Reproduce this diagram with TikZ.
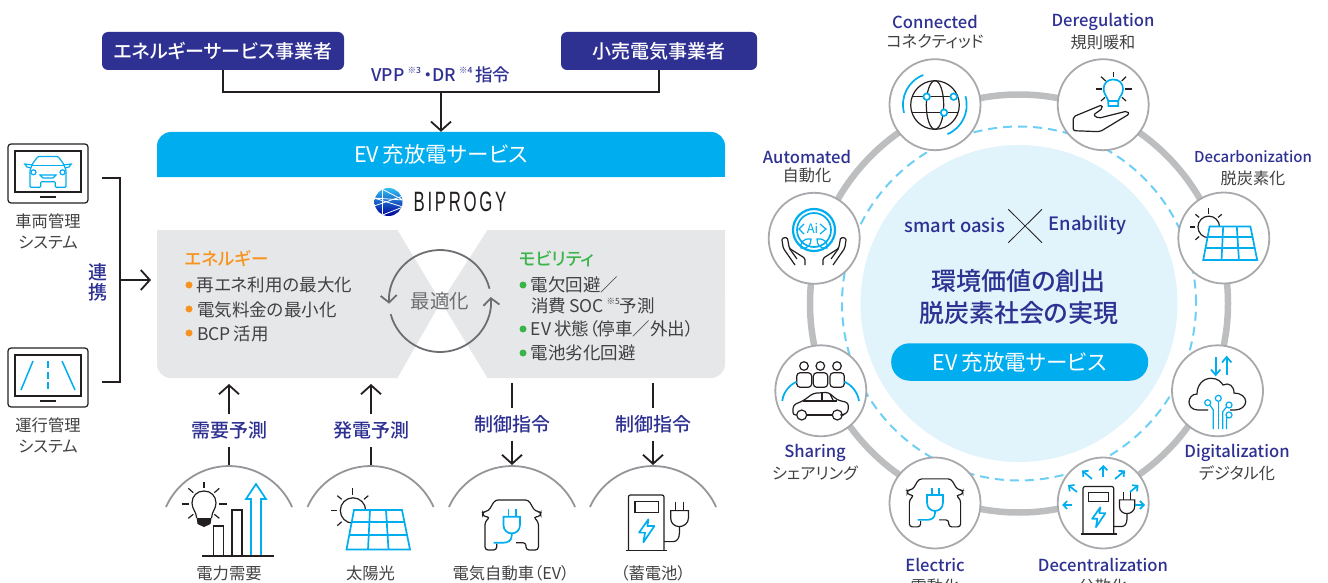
\documentclass[tikz,border=0pt]{standalone}
\usepackage{fontspec}
\usepackage{xcolor}
\usepackage{tikz}
\usetikzlibrary{arrows.meta,positioning,calc,shapes.geometric}
\setmainfont[RawFeature=+palt]{Noto Sans CJK JP}
\newfontfamily\medfont[RawFeature=+palt]{Noto Sans CJK JP Medium}
\newfontfamily\logofont[LetterSpace=16]{Liberation Sans}
\definecolor{navy}{HTML}{2E3192}
\definecolor{evblue}{HTML}{00AEEF}
\definecolor{panelgray}{HTML}{E6E7E8}
\definecolor{inktext}{HTML}{414042}
\definecolor{ink}{HTML}{231F20}
\definecolor{midgray}{HTML}{6D6E71}
\definecolor{domegray}{HTML}{939598}
\definecolor{ringgray}{HTML}{BCBEC0}
\definecolor{wheelgray}{HTML}{A7A9AC}
\definecolor{dashblue}{HTML}{6DCFF6}
\definecolor{discblue}{HTML}{E1F3FB}
\definecolor{energyorange}{HTML}{F7931E}
\definecolor{mobilgreen}{HTML}{39B54A}
\newcommand{\noteref}[1]{\raisebox{.5em}{\fontsize{8.5}{8.5}\selectfont ※#1}}

\begin{document}
\begin{tikzpicture}[
    x=1pt, y=-1pt,
    actorbox/.style={fill=navy, rounded corners=6pt, minimum height=38pt, text=white,
                inner sep=0pt, font=\medfont\fontsize{19}{20}\selectfont},
    arr/.style={->, >={Straight Barb[length=9pt,width=20pt]}, line width=1.8pt, draw=ink},
    conn/.style={line width=1.8pt, draw=ink},
    navylbl/.style={text=navy, inner sep=0pt, font=\medfont\fontsize{19}{21}\selectfont},
    steplbl/.style={navylbl, minimum height=32pt},
    graylbl/.style={text=inktext, inner sep=0pt, align=center, font=\fontsize{16.3}{20.5}\selectfont},
    itemlbl/.style={text=inktext, anchor=west, inner sep=0pt, font=\fontsize{17.5}{20}\selectfont},
    headlbl/.style={itemlbl, font=\medfont\fontsize{17.5}{20}\selectfont},
    dot/.style={circle, minimum size=7pt, inner sep=0pt},
    monitor/.style={draw=ink, line width=1.2pt, rounded corners=3pt, minimum width=80pt, minimum height=59pt},
    screen/.style={draw=ink, line width=1.4pt, minimum width=66pt, minimum height=41pt},
    dome/.style={draw=domegray, line width=1.8pt},
    wheel/.style={circle, draw=wheelgray, line width=1.8pt, fill=white, minimum size=91pt, inner sep=0pt},
    entitle/.style={text=navy, inner sep=0pt, font=\medfont\fontsize{16.6}{18}\selectfont},
    jptitle/.style={text=inktext, inner sep=0pt, font=\fontsize{16.2}{18}\selectfont},
    iconline/.style={draw=ink, line width=1.2pt},
    blueline/.style={draw=evblue, line width=1.7pt},
    thinblue/.style={draw=evblue, line width=1.2pt},
    tinyarr/.style={->, >={Straight Barb[length=4pt,width=8pt]}, draw=evblue, line width=1.7pt},
    looparr/.style={->, >={Straight Barb[length=7pt,width=16pt]}, draw=midgray, line width=1.8pt},
    solarpanel/.pic={
        \draw[iconline] (-25,-19.5) circle (12.7);
        \draw[iconline] (-25.3,-42) -- (-25.3,-35);
        \draw[iconline] (-47,-19.5) -- (-41,-19.5);
        \draw[iconline] (-40.7,-34.3) -- (-36.3,-30.7);
        \draw[iconline] (-9.7,-34.3) -- (-14,-30.7);
        \draw[iconline] (-40.7,-4.3) -- (-36.3,-8.3);
        \draw[blueline, fill=white] (-24,-20) -- (24,-20) -- (32,19.5) -- (-31.5,19.5) -- cycle;
        \draw[blueline] (-8,-20) -- (-10,19.5);
        \draw[blueline] (8,-20) -- (10.5,19.5);
        \draw[blueline] (-26.3,-7.7) -- (26.5,-7.7);
        \draw[blueline] (-28.7,5) -- (29,5);
    },
    carplug/.pic={
        \draw[iconline, rounded corners=3pt] (4.3,16) -- (14.3,16) -- (14.3,23.3) -- (26.7,23.3) -- (26.7,-5)
            -- (21.7,-9.5) -- (29,-10.5) -- (29,-15) -- (23.3,-15.5) -- (16.7,-26.7) -- (-16.7,-26.7)
            -- (-23.3,-15.5) -- (-29,-15) -- (-29,-10.5) -- (-21.7,-9.5) -- (-26.7,-5) -- (-26.7,23.3)
            -- (-15,23.3) -- (-15,17);
        \draw[blueline] (-3.3,-17.5) -- (-3.3,-10);
        \draw[blueline] (4.3,-17.5) -- (4.3,-10);
        \draw[blueline] (-8.3,-10) -- (8.3,-10) -- (8.3,-2) .. controls (8.3,4) and (4,6.7) .. (0,6.7)
            .. controls (-4,6.7) and (-8.3,4) .. (-8.3,-2) -- cycle;
        \draw[blueline] (0,6.7) -- (0,9) .. controls (0,14) and (-4,16) .. (-8,16) -- (-18,16);
    },
    charger/.pic={
        \draw[iconline, rounded corners=2pt] (-18.3,27) -- (-18.3,-28.3) -- (17.3,-28.3) -- (17.3,27);
        \draw[iconline] (-21,27) -- (20.7,27);
        \draw[iconline] (-11.7,-21.7) -- (11.7,-21.7) -- (11.7,-11) -- (-11.7,-11) -- cycle;
        \draw[blueline, line join=round] (1.7,-4) -- (-7.7,9.3) -- (-1.7,9.3) -- (-3.3,19) -- (7.7,2.7) -- (0.7,2.7) -- cycle;
        \draw[iconline] (29,-21.7) -- (29,-12.7);
        \draw[iconline] (36.7,-21.7) -- (36.7,-12.7);
        \draw[iconline] (24,-12.7) -- (41.7,-12.7) -- (41.7,-5) .. controls (41.7,0) and (37,3.3) .. (32.7,3.3)
            .. controls (28,3.3) and (24,0) .. (24,-5) -- cycle;
        \draw[iconline] (32.7,3.3) -- (32.7,10) .. controls (32.7,15) and (30,18.3) .. (26.7,18.3) -- (17.3,18.3);
    }
]
\useasboundingbox (0,0) rectangle (1328,583);

% --- Operators and instruction line ---
\node[actorbox, minimum width=242pt] (esco) at (223,51) {エネルギーサービス事業者};
\node[actorbox, minimum width=196pt] (retail) at (659,51) {小売電気事業者};
\node[navylbl, font=\medfont\fontsize{17.5}{18}\selectfont] (vpplbl) at (441,75) {VPP\,\noteref{3}\,・DR\,\noteref{4}\,指令};
\coordinate (vppjoin) at (441,92);
\draw[conn] (esco.south) |- (vppjoin) -| (retail.south);

% --- Service bar and logo ---
\fill[evblue, rounded corners=14pt] (157,177) -- (157,132) -- (725,132) -- (725,177) [sharp corners] -- cycle;
\fill[evblue] (157,160) rectangle (725,177);
\node[minimum width=568pt, minimum height=45pt, inner sep=0pt, text=white, font=\fontsize{21.5}{22}\selectfont] (evbar) at (441,154.5) {EV\,充放電サービス};
\draw[arr] (vppjoin) -- (evbar.north);

\begin{scope}
    \clip (388.5,202) circle (14);
    \shade[top color=evblue!80, bottom color=blue!60!black] (374,188) rectangle (403,216);
    \draw[white, line width=.8pt] (380,188) -- (403,200) -- (374,198) -- (403,207) -- (380,216);
    \draw[white, line width=.8pt] (374,206) -- (403,196);
    \draw[white, line width=.8pt] (382,188) -- (382,216);
\end{scope}
\node[inner sep=0pt, text=ink, xscale=.6, font=\logofont\fontsize{28}{28}\selectfont] (logotext) at (460,202) {BIPROGY};

% --- Gray panel with the white wedges ---
\fill[panelgray] (157,230) rectangle (725,300);
\fill[panelgray, rounded corners=14pt] (157,280) rectangle (725,378);
\fill[white] (397,229) -- (488,229) -- (441,302) -- cycle;
\fill[white] (397,379) -- (488,379) -- (441,302) -- cycle;

\node[headlbl, text=energyorange] (energy) at (185,259) {エネルギー};
\node[dot, fill=energyorange] (bula) at (189,285) {};
\node[itemlbl, right=4pt of bula] (itema) {再エネ利用の最大化};
\node[itemlbl] (itemb) at (197,310) {電気料金の最小化};
\node[dot, fill=energyorange] (bulb) at (189,309) {};
\node[itemlbl] (itemc) at (197,334) {BCP\,活用};
\node[dot, fill=energyorange] (bulc) at (189,333) {};

\node[headlbl, text=mobilgreen] (mobility) at (519,259) {モビリティ};
\node[dot, fill=mobilgreen] (buld) at (523,285) {};
\node[itemlbl, right=4pt of buld] (itemd) {電欠回避／};
\node[itemlbl] (iteme) at (531,306) {消費\,SOC\,\noteref{5}予測};
\node[dot, fill=mobilgreen] (bule) at (523,329) {};
\node[itemlbl, right=4pt of bule] (itemf) {EV\,状態（停車／外出）};
\node[dot, fill=mobilgreen] (bulf) at (523,353) {};
\node[itemlbl, right=4pt of bulf] (itemg) {電池劣化回避};

% Optimization loop
\node[inner sep=0pt, text=midgray, font=\fontsize{19.5}{20}\selectfont] (optimize) at (440,301) {最適化};
\draw[looparr] (489.5,288.7) arc[start angle=-14, end angle=-183, radius=51];
\draw[looparr] (390.7,314.2) arc[start angle=-195, end angle=-364.5, radius=51];

% --- Management systems on the left ---
\node[monitor] (fleet) at (48,173.5) {};
\node[screen] (fleetscreen) at (48,171.5) {};
\draw[iconline] (40,197) -- (56,197);
\node[graylbl, below=10pt of fleet] (fleetlbl) {車両管理\\システム};
\begin{scope}[shift={(48,0)}]
    \draw[thinblue, rounded corners=1pt] (7.3,181.7) -- (7.3,187.3) -- (18,187.3) -- (18,170) -- (15,163) -- (10,156.5) -- (-10,156.5)
        -- (-15,163) -- (-18,170) -- (-18,187.3) -- (-7.3,187.3) -- (-7.3,181.7) -- cycle;
    \draw[thinblue] (16,165.7) -- (-16,165.7);
    \draw[thinblue] (15,165) -- (23.3,164) -- (21,167) -- (17,168);
    \draw[thinblue] (-15,165) -- (-23.3,164) -- (-21,167) -- (-17,168);
    \draw[thinblue] (14.5,172.3) circle (2.5);
    \draw[thinblue] (-14.5,172.3) circle (2.5);
    \draw[thinblue] (-8,175) -- (8,175) -- (5,178) -- (-5,178) -- cycle;
\end{scope}

\node[monitor] (route) at (48,377.5) {};
\node[screen] (routescreen) at (48,375.5) {};
\draw[iconline] (40,401) -- (56,401);
\node[graylbl, below=10pt of route] (routelbl) {運行管理\\システム};
\draw[thinblue, line width=1.5pt] (33,361) -- (21,390);
\draw[thinblue, line width=1.5pt, dash pattern=on 7pt off 3.5pt] (48,361) -- (48,390);
\draw[thinblue, line width=1.5pt] (62,361) -- (75,390);

\coordinate (fleetout) at (102,178);
\coordinate (routeout) at (102,382);
\coordinate (linkjoin) at (120,280);
\coordinate (panelin) at (151,280);
\draw[conn] (fleetout) -| (linkjoin);
\draw[conn] (routeout) -| (linkjoin);
\draw[arr] (linkjoin) -- (panelin);
\node[navylbl, align=center, font=\medfont\fontsize{19}{20}\selectfont] (linklbl) at (98,282) {連\\携};

% --- Bottom row: forecasts and commands ---
\node[steplbl] (demandlbl) at (229,430.5) {需要予測};
\node[steplbl] (solarlbl) at (371,430.5) {発電予測};
\node[steplbl] (evlbl) at (512,424.5) {制御指令};
\node[steplbl] (batlbl) at (653,424.5) {制御指令};

\coordinate (demandtop) at (229,466);
\coordinate (solartop) at (371,466);
\coordinate (evtop) at (512,465);
\coordinate (battop) at (653,465);
\coordinate (demandup) at (229,384);
\coordinate (solarup) at (371,384);
\coordinate (evstart) at (512,383);
\coordinate (batstart) at (653,383);

\draw[conn] (demandtop) -- (demandlbl.south);
\draw[arr] (demandlbl.north) -- (demandup);
\draw[conn] (solartop) -- (solarlbl.south);
\draw[arr] (solarlbl.north) -- (solarup);
\draw[conn] (evstart) -- (evlbl.north);
\draw[arr] (evlbl.south) -- (evtop);
\draw[conn] (batstart) -- (batlbl.north);
\draw[arr] (batlbl.south) -- (battop);

\draw[dome] (166,507) arc[start angle=204, end angle=336, radius=69];
\draw[dome] (307.5,507) arc[start angle=204, end angle=336, radius=69];
\draw[dome] (449,507) arc[start angle=204, end angle=336, radius=69];
\draw[dome] (590,507) arc[start angle=204, end angle=336, radius=69];

% Demand icon
\draw[iconline] (196.7,518) .. controls (196,511) and (192,509) .. (192,503) .. controls (192,496) and (197,491) .. (204,491)
    .. controls (211,491) and (216,496) .. (216,503) .. controls (216,509) and (212,511) .. (211.5,518);
\fill[ink] (196.7,518) -- (211.5,518) -- (210.5,524) -- (204,527) -- (197.5,524) -- cycle;
\draw[iconline] (204,481.7) -- (204,488.3);
\draw[iconline] (181.7,504) -- (189.3,504);
\draw[iconline] (219,504) -- (226.7,504);
\draw[iconline] (188.3,488.3) -- (193.3,492.7);
\draw[iconline] (219.3,488.3) -- (214.3,492.7);
\draw[iconline] (188.3,518.3) -- (193.3,514.3);
\draw[iconline] (219.3,518.3) -- (214.3,514.3);
\draw[iconline] (213.5,556) |- (223.5,526) -- (223.5,556);
\draw[iconline] (232,556) |- (242,510) -- (242,556);
\draw[blueline] (251,556) -- (251,499) -- (246,499) -- (256,484) -- (266,499) -- (261,499) -- (261,556) -- cycle;
\draw[iconline] (202,556) -- (274,556);

\pic at (378,530) {solarpanel};
\pic at (511.7,526.7) {carplug};
\pic at (646.7,523.3) {charger};

\node[graylbl] (demandcap) at (229,573) {電力需要};
\node[graylbl] (solarcap) at (370.5,573) {太陽光};
\node[graylbl] (evcap) at (511,573) {電気自動車（EV）};
\node[graylbl] (batcap) at (653,573) {（蓄電池）};

% --- Right: ring of trends ---
\node[circle, draw=ringgray, line width=6.5pt, minimum size=418pt, inner sep=0pt] (ring) at (1019,303.5) {};
\node[circle, draw=dashblue, line width=2pt, dash pattern=on 9pt off 6pt, minimum size=354pt, inner sep=0pt] (dashring) at (1019,303.5) {};
\node[circle, fill=discblue, minimum size=317pt, inner sep=0pt] (disc) at (1019,303.5) {};

\node[wheel] (connected) at (935,104.7) {};
\node[wheel] (deregulation) at (1103.2,104.7) {};
\node[wheel] (decarbon) at (1223.8,238) {};
\node[wheel] (digital) at (1217.5,390.8) {};
\node[wheel] (decentral) at (1103.2,503) {};
\node[wheel] (electric) at (935,503) {};
\node[wheel] (sharing) at (820.8,390.8) {};
\node[wheel] (automated) at (814.2,238.3) {};

\node[entitle] (connectedtitle) at (935,22) {Connected};
\node[jptitle] (connectedjp) at (935,42) {コネクティッド};
\node[entitle] (deregtitle) at (1103,22) {Deregulation};
\node[jptitle] (deregjp) at (1103,42) {規則暖和};
\node[entitle, font=\medfont\fontsize{15}{18}\selectfont] (decarbontitle) at (1253,157) {Decarbonization};
\node[jptitle] (decarbonjp) at (1253,178) {脱炭素化};
\node[entitle] (digitaltitle) at (1237,452.7) {Digitalization};
\node[jptitle] (digitaljp) at (1237,473) {デジタル化};
\node[entitle] (decentraltitle) at (1103,565) {Decentralization};
\node[jptitle] (decentraljp) at (1103,586) {分散化};
\node[entitle] (electrictitle) at (935,565) {Electric};
\node[jptitle] (electricjp) at (935,586) {電動化};
\node[entitle] (sharingtitle) at (815,452.7) {Sharing};
\node[jptitle] (sharingjp) at (815,473) {シェアリング};
\node[entitle] (automatedtitle) at (807,157) {Automated};
\node[jptitle] (automatedjp) at (807,175) {自動化};

% Center of the disc
\node[entitle, font=\medfont\fontsize{18.4}{20}\selectfont] (oasis) at (954.7,225.7) {smart oasis};
\node[entitle, font=\medfont\fontsize{18.4}{20}\selectfont] (enability) at (1087.5,225.7) {Enability};
\coordinate (crossa) at (1008.3,209.3);
\coordinate (crossb) at (1042,242.7);
\coordinate (crossc) at (1042,209.3);
\coordinate (crossd) at (1008.3,242.7);
\draw[ink, line width=.8pt] (crossa) -- (crossb);
\draw[ink, line width=.8pt] (crossc) -- (crossd);
\node[navylbl, font=\medfont\fontsize{25}{26}\selectfont] (valuelbl) at (1018.7,280.7) {環境価値の創出};
\node[navylbl, font=\medfont\fontsize{25}{26}\selectfont] (carbonlbl) at (1018.7,313.3) {脱炭素社会の実現};
\node[rectangle, rounded corners=18.5pt, fill=evblue, text=white, minimum width=257pt, minimum height=37.5pt, inner sep=0pt,
    font=\fontsize{21.5}{22}\selectfont] (evpill) at (1019.7,362) {EV\,充放電サービス};

% Globe
\draw[iconline] (935,105) circle (24.3);
\draw[iconline] (935,105) ellipse (8.7 and 24.3);
\draw[iconline] (912.5,96.7) -- (957.5,96.7);
\draw[iconline] (912,112.7) -- (958,112.7);
\draw[blueline] (923.3,75) arc[start angle=249, end angle=165, radius=31.7];
\draw[blueline] (947.4,134.2) arc[start angle=67, end angle=-16, radius=31.7];
\draw[blueline, fill=white] (926.7,96.7) circle (3.3);
\draw[blueline, fill=white] (953.7,96.7) circle (3.3);
\draw[blueline, fill=white] (944,112.7) circle (3.3);

% Hand and bulb
\draw[blueline] (1108.5,106) -- (1118,106) -- (1118.5,100) .. controls (1120,96) and (1123,94) .. (1123,89)
    .. controls (1123,83) and (1119,79.5) .. (1113.3,79.5) .. controls (1107.5,79.5) and (1103.6,83) .. (1103.6,89)
    .. controls (1103.6,94) and (1107,96) .. (1108,100) -- cycle;
\draw[blueline] (1108,101) -- (1118.5,101);
\draw[iconline] (1113.3,71.7) -- (1113.3,77.3);
\draw[iconline] (1095.7,89) -- (1101.7,89);
\draw[iconline] (1125,89) -- (1131.7,89);
\draw[iconline] (1101,76.7) -- (1105.7,81);
\draw[iconline] (1126,76.7) -- (1121.7,81);
\draw[iconline] (1101,101) -- (1105,97.3);
\draw[iconline] (1126,101) -- (1122,97.3);
\draw[iconline, rounded corners=2pt, line join=round] (1073.3,130.7) -- (1073.3,116.7) -- (1101.7,105) -- (1102.7,108.3) -- (1093.3,115) -- (1098.3,118.3)
    -- (1127.3,111) -- (1129.3,114) -- (1100,131.7) -- cycle;

\pic[scale=.85] at (1230,243.5) {solarpanel};

% Cloud with circuit
\draw[blueline] (1215.7,356.7) -- (1215.7,375);
\draw[blueline] (1211,369.5) -- (1215.7,375) -- (1220.4,369.5);
\draw[blueline] (1226.7,375) -- (1226.7,357);
\draw[blueline] (1222,362.5) -- (1226.7,357) -- (1231.4,362.5);
\draw[iconline] (1208,410) -- (1198,410) .. controls (1192,410) and (1189,406) .. (1189,402) .. controls (1189,398) and (1192,394) .. (1197,394)
    .. controls (1197,385) and (1203,378.3) .. (1211,378.3) .. controls (1218,378.3) and (1221,382) .. (1223,385)
    .. controls (1229,382) and (1234,386) .. (1234,393) .. controls (1241,393) and (1245.7,397) .. (1245.7,401.7)
    .. controls (1245.7,406) and (1241,410) .. (1235,410) -- (1230,410);
\draw[thinblue] (1218.3,398.3) circle (3);
\draw[thinblue] (1218.3,401.3) -- (1218.3,429);
\draw[thinblue] (1207.7,402.7) circle (3);
\draw[thinblue] (1209.8,405) -- (1213.3,410) -- (1213.3,429);
\draw[thinblue] (1229,405) circle (3);
\draw[thinblue] (1226.5,407) -- (1222.7,411.7) -- (1222.7,429);
\draw[thinblue] (1229,415) circle (3);
\draw[thinblue] (1226.8,417) -- (1226.5,421.7) -- (1226.5,429);

% Charger with arrows
\pic[scale=.86] at (1098.8,510.8) {charger};
\draw[tinyarr] (1103.3,476.7) -- (1103.3,465);
\draw[tinyarr] (1115,479) -- (1125,470.5);
\draw[tinyarr] (1130,492) -- (1138.5,485);
\draw[tinyarr] (1135,505) -- (1145,505);
\draw[tinyarr] (1072,505) -- (1062,505);
\draw[tinyarr] (1077,492) -- (1068,485);
\draw[tinyarr] (1092,479) -- (1082,470.5);

\pic[scale=.96] at (935,504.5) {carplug};

% People and car
\draw[iconline] (804,366) circle (4.3);
\draw[iconline] (820.3,366) circle (4.3);
\draw[iconline] (837,366) circle (4.3);
\draw[iconline, rounded corners=3.5pt] (796.7,387.3) -- (796.7,372.7) -- (811.7,372.7) -- (811.7,387.3) -- cycle;
\draw[iconline, rounded corners=3.5pt] (813.3,387.3) -- (813.3,372.7) -- (827.7,372.7) -- (827.7,387.3) -- cycle;
\draw[iconline, rounded corners=3.5pt] (830,387.3) -- (830,372.7) -- (844.3,372.7) -- (844.3,387.3) -- cycle;
\draw[blueline] (782.3,401) .. controls (783,393) and (789,385) .. (796.7,381.7);
\draw[blueline] (859,401) .. controls (858,393) and (852,385) .. (844.3,381.7);
\draw[iconline, rounded corners=3pt] (796.5,415) -- (792.7,415) -- (793.3,405) -- (803.3,400.7) -- (813.3,393.3) -- (828.3,392.3) -- (837.3,400) -- (848.3,402.7)
    -- (848.3,411.7) -- (843.3,415) -- (842.5,415);
\draw[iconline] (807,415) -- (832,415);
\draw[iconline] (801.7,415) circle (5);
\draw[iconline] (837.3,415) circle (5);
\draw[iconline] (822,393) -- (822,401);
\draw[iconline] (830,394) -- (833.5,401);
\draw[iconline] (803.3,401) -- (837.3,401);

% Hands with AI wheel
\draw[blueline, line width=2.2pt] (814,230) circle (21);
\draw[blueline] (814,230) circle (17);
\node[inner sep=0pt, text=evblue, font=\fontsize{13}{14}\selectfont] (ailbl) at (812.5,228) {Ai};
\draw[thinblue] (804,224) -- (799,229) -- (804,234);
\draw[thinblue] (820,224) -- (826,229) -- (820,234);
\draw[thinblue] (811,239) .. controls (803,238) and (800,243) .. (801,248) .. controls (808,249) and (811,245) .. (811,239) -- cycle;
\draw[thinblue] (817,239) .. controls (825,238) and (828,243) .. (827,248) .. controls (820,249) and (817,245) .. (817,239) -- cycle;
\draw[iconline, rounded corners=1.5pt] (795,265) -- (783.3,248.3) -- (781.7,238.3) -- (787.3,237.3) -- (789.3,248.3) -- (805,258.3) -- (805,265);
\draw[iconline] (789.3,248.3) -- (797,259);
\draw[iconline, rounded corners=1.5pt] (833,265) -- (844.7,248.3) -- (846.3,238.3) -- (840.7,237.3) -- (838.7,248.3) -- (823,258.3) -- (823,265);
\draw[iconline] (838.7,248.3) -- (831,259);

\end{tikzpicture}
\end{document}
